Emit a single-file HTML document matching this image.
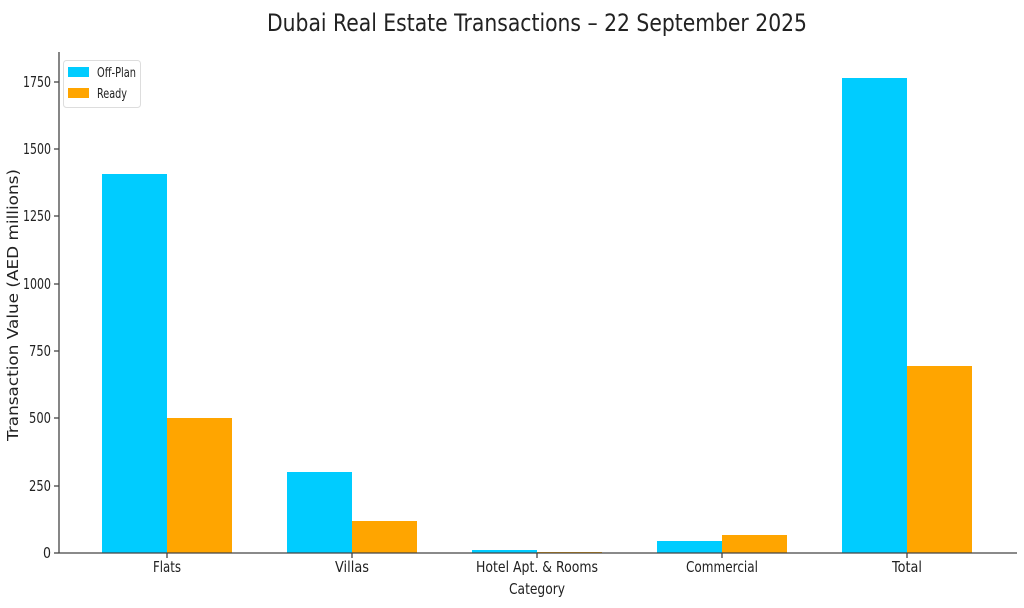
<!DOCTYPE html>
<html><head><style>body{margin:0;background:#fff}svg{display:block}</style></head><body>
<svg width="1024" height="608" xmlns="http://www.w3.org/2000/svg" font-family="DejaVu Sans, Liberation Sans, sans-serif" fill="#222">
<text x="537" y="31" font-size="24" text-anchor="middle" textLength="540" lengthAdjust="spacingAndGlyphs">Dubai Real Estate Transactions – 22 September 2025</text>
<g fill="#00CCFF">
<rect x="102" y="174" width="65" height="379"/>
<rect x="287" y="472" width="65" height="81"/>
<rect x="472" y="550" width="65" height="3"/>
<rect x="657" y="541" width="65" height="12"/>
<rect x="842" y="78" width="65" height="475"/>
</g>
<g fill="#FFA500">
<rect x="167" y="418" width="65" height="135"/>
<rect x="352" y="521" width="65" height="32"/>
<rect x="537" y="552" width="65" height="1"/>
<rect x="722" y="535" width="65" height="18"/>
<rect x="907" y="366" width="65" height="187"/>
</g>
<g stroke="#444" stroke-width="1.3">
<line x1="59" y1="52" x2="59" y2="553"/>
<line x1="59" y1="553" x2="1017" y2="553"/>
<line x1="54" y1="553" x2="59" y2="553"/><line x1="54" y1="486" x2="59" y2="486"/>
<line x1="54" y1="418" x2="59" y2="418"/><line x1="54" y1="351" x2="59" y2="351"/>
<line x1="54" y1="284" x2="59" y2="284"/><line x1="54" y1="216" x2="59" y2="216"/>
<line x1="54" y1="149" x2="59" y2="149"/><line x1="54" y1="82" x2="59" y2="82"/>
<line x1="167" y1="553" x2="167" y2="558"/><line x1="352" y1="553" x2="352" y2="558"/>
<line x1="537" y1="553" x2="537" y2="558"/><line x1="722" y1="553" x2="722" y2="558"/>
<line x1="907" y1="553" x2="907" y2="558"/>
</g>
<g font-size="15" text-anchor="end">
<text x="51" y="558" textLength="8" lengthAdjust="spacingAndGlyphs">0</text>
<text x="51" y="491" textLength="22" lengthAdjust="spacingAndGlyphs">250</text>
<text x="51" y="423" textLength="22" lengthAdjust="spacingAndGlyphs">500</text>
<text x="51" y="356" textLength="22" lengthAdjust="spacingAndGlyphs">750</text>
<text x="51" y="289" textLength="28" lengthAdjust="spacingAndGlyphs">1000</text>
<text x="51" y="221" textLength="28" lengthAdjust="spacingAndGlyphs">1250</text>
<text x="51" y="154" textLength="28" lengthAdjust="spacingAndGlyphs">1500</text>
<text x="51" y="87" textLength="28" lengthAdjust="spacingAndGlyphs">1750</text>
</g>
<g font-size="15" text-anchor="middle">
<text x="167" y="572" textLength="28" lengthAdjust="spacingAndGlyphs">Flats</text>
<text x="352" y="572" textLength="34" lengthAdjust="spacingAndGlyphs">Villas</text>
<text x="537" y="572" textLength="122" lengthAdjust="spacingAndGlyphs">Hotel Apt. &amp; Rooms</text>
<text x="722" y="572" textLength="72" lengthAdjust="spacingAndGlyphs">Commercial</text>
<text x="907" y="572" textLength="30" lengthAdjust="spacingAndGlyphs">Total</text>
<text x="537" y="594" textLength="56" lengthAdjust="spacingAndGlyphs">Category</text>
</g>
<text transform="translate(18,305) rotate(-90)" font-size="15" text-anchor="middle" textLength="272" lengthAdjust="spacingAndGlyphs">Transaction Value (AED millions)</text>
<rect x="63.5" y="60.5" width="77" height="47" rx="3" fill="#fff" stroke="#ddd"/>
<rect x="68" y="67" width="21" height="10" fill="#00CCFF"/>
<rect x="68" y="88" width="21" height="10" fill="#FFA500"/>
<text x="97" y="77" font-size="13" textLength="39" lengthAdjust="spacingAndGlyphs">Off-Plan</text>
<text x="97" y="98" font-size="13" textLength="30" lengthAdjust="spacingAndGlyphs">Ready</text>
</svg>
</body></html>
